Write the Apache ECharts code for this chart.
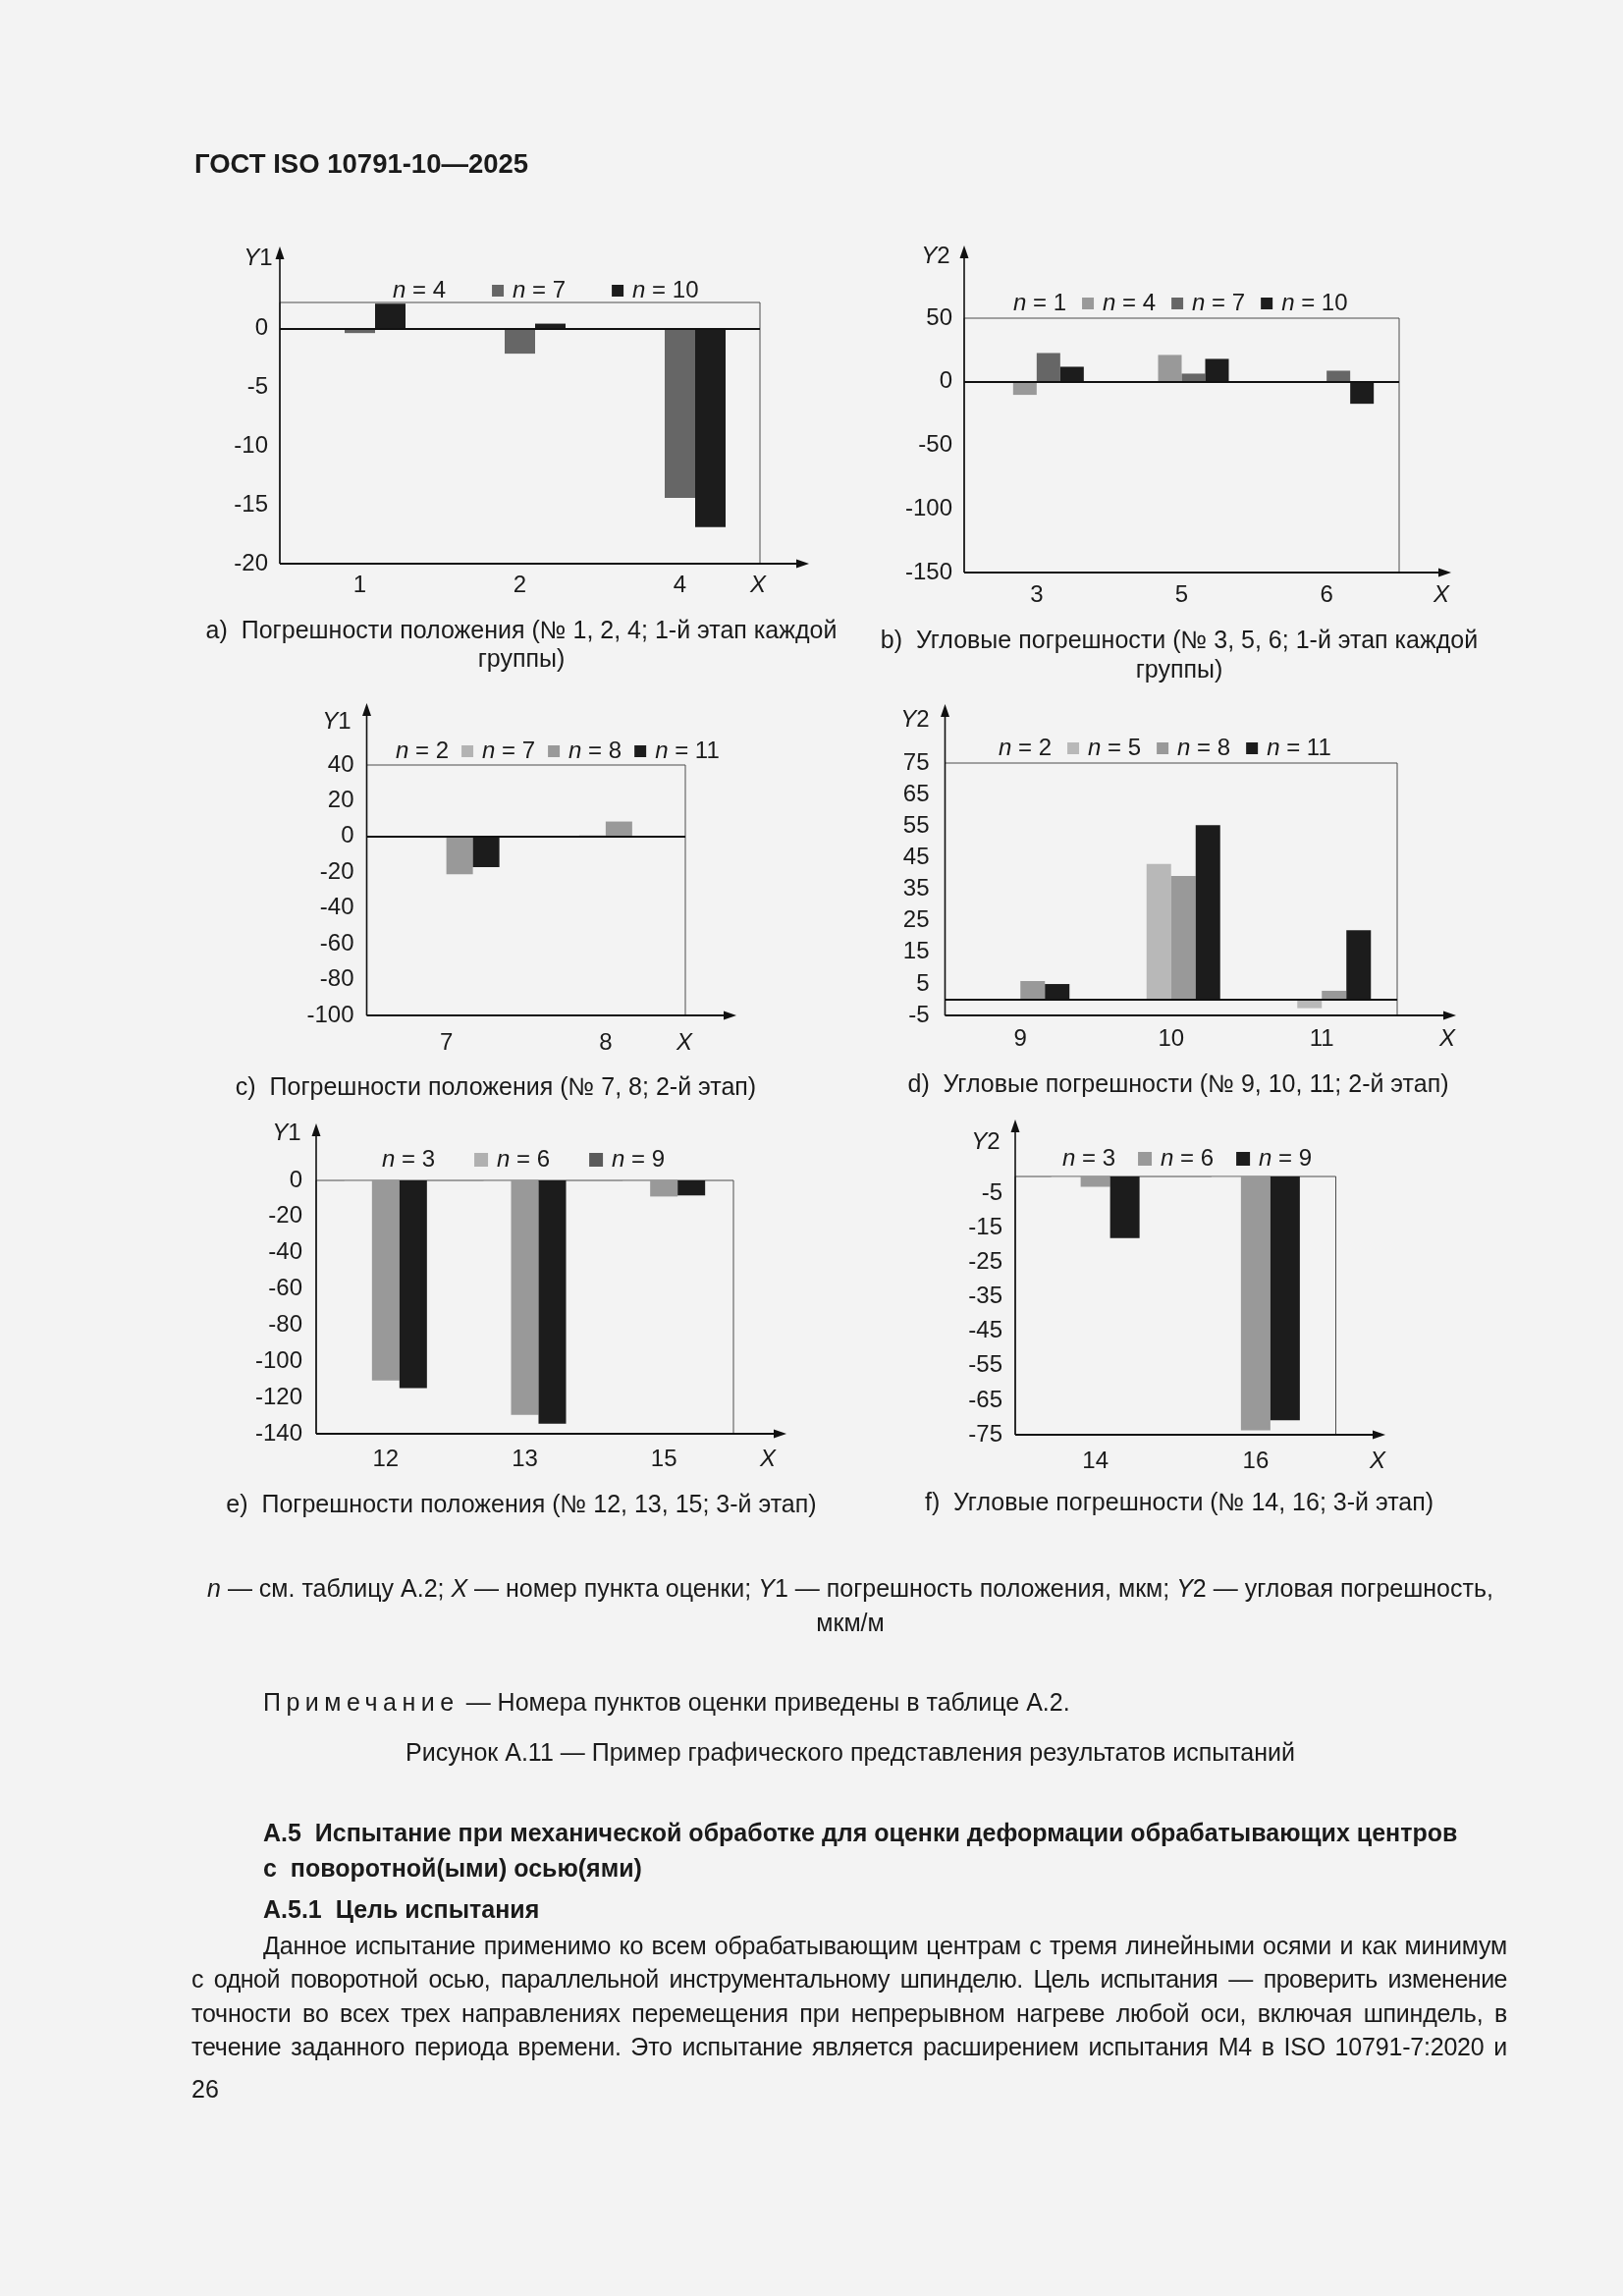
<!DOCTYPE html>
<html><head><meta charset="utf-8">
<script src="https://cdn.jsdelivr.net/npm/echarts@6/dist/echarts.min.js"></script>
<style>
html,body{margin:0;padding:0;background:#f3f3f3;}
#page{position:relative;width:1653px;height:2338px;overflow:hidden;background:#f3f3f3;font-family:"Liberation Sans",Arial,sans-serif;color:#1a1a1a;}
#chart{position:absolute;left:0;top:0;width:1653px;height:2338px;}
.t{position:absolute;font-size:25px;line-height:30px;height:30px;white-space:pre;}
.c{transform:translateX(-50%);}
.j{text-align:justify;text-align-last:justify;white-space:normal;letter-spacing:-0.2px;}
.b{font-weight:bold;}
</style></head>
<body><div id="page"><div id="chart"></div>
<div class="t b" style="left:198px;top:152px;font-size:27.5px;">ГОСТ ISO 10791-10—2025</div>
<div class="t c" style="left:866px;top:1602px;"><i>n</i> — см. таблицу А.2; <i>X</i> — номер пункта оценки; <i>Y</i>1 — погрешность положения, мкм; <i>Y</i>2 — угловая погрешность,</div>
<div class="t c" style="left:866px;top:1637px;">мкм/м</div>
<div class="t" style="left:268px;top:1718px;"><span style="letter-spacing:5.5px">Примечание</span> — Номера пунктов оценки приведены в таблице А.2.</div>
<div class="t c" style="left:866px;top:1769px;">Рисунок А.11 — Пример графического представления результатов испытаний</div>
<div class="t b" style="left:268px;top:1851px;">А.5  Испытание при механической обработке для оценки деформации обрабатывающих центров</div>
<div class="t b" style="left:268px;top:1887px;">с  поворотной(ыми) осью(ями)</div>
<div class="t b" style="left:268px;top:1929px;">А.5.1  Цель испытания</div>
<div class="t j" style="left:268px;top:1966px;width:1267px;">Данное испытание применимо ко всем обрабатывающим центрам с тремя линейными осями и как минимум</div>
<div class="t j" style="left:195px;top:2000px;width:1340px;letter-spacing:-0.5px;">с одной поворотной осью, параллельной инструментальному шпинделю. Цель испытания — проверить изменение</div>
<div class="t j" style="left:195px;top:2035px;width:1340px;">точности во всех трех направлениях перемещения при непрерывном нагреве любой оси, включая шпиндель, в</div>
<div class="t j" style="left:195px;top:2069px;width:1340px;">течение заданного периода времени. Это испытание является расширением испытания М4 в ISO 10791-7:2020 и</div>
<div class="t" style="left:195px;top:2112px;">26</div>
</div>
<script>
// ---- data ----
const catsA = ['1', '2', '4'];
const aN4 = [-0.1, -0.1, -0.1];
const aN7 = [-0.4, -2.15, -14.4];
const aN10 = [2.1, 0.4, -16.9];
const ticksA = [-20, -15, -10, -5, 0];

const catsB = ['3', '5', '6'];
const bN1 = [-1, 0, 0];
const bN4 = [-10.3, 21.1, 0];
const bN7 = [22.6, 6.4, 8.7];
const bN10 = [11.8, 18.0, -17.3];
const ticksB = [-150, -100, -50, 0, 50];

const catsC = ['7', '8'];
const cN2 = [0, 0];
const cN7 = [-0.8, 0.7];
const cN8 = [-21.1, 8.4];
const cN11 = [-17.1, 0];
const ticksC = [-100, -80, -60, -40, -20, 0, 20, 40];

const catsD = ['9', '10', '11'];
const dN2 = [0, 0, 0];
const dN5 = [0, 43.0, -2.7];
const dN8 = [5.9, 39.2, 2.8];
const dN11 = [4.95, 55.3, 22.0];
const ticksD = [-5, 5, 15, 25, 35, 45, 55, 65, 75];

const catsE = ['12', '13', '15'];
const eN3 = [-0.3, -0.3, -0.3];
const eN6 = [-110.5, -129.5, -8.9];
const eN9 = [-114.8, -134.4, -8.3];
const ticksE = [-140, -120, -100, -80, -60, -40, -20, 0];

const catsF = ['14', '16'];
const fN3 = [-0.3, -0.3];
const fN6 = [-3.0, -73.7];
const fN9 = [-17.9, -70.8];
const ticksF = [-75, -65, -55, -45, -35, -25, -15, -5];

// ---- styles / layout ----
const FONT = '"Liberation Sans", Arial, sans-serif';
const TXT = '#1a1a1a';
const LIGHT = '#bdbdbd', MID = '#999999', DARK = '#666666', BLACK = '#1c1c1c';
const HIDE = 'rgba(0,0,0,0)';

const charts = [
  { id: 'a', cats: catsA, ticks: ticksA, min: -20, max: 2.2, interval: 5, zero: true,
    series: [['n = 4', aN4, LIGHT, HIDE], ['n = 7', aN7, DARK, null], ['n = 10', aN10, BLACK, null]],
    g: { left: 285, top: 308, w: 489, h: 266 }, yTip: 251, xTip: 824, bw: 31, lm: 12, cm: 10,
    yName: [263, 263, '1'], xName: [772, 596],
    lg: { left: 374, top: 279, gap: 47, iw: 12 },
    cap: [['a)  Погрешности положения (№ 1, 2, 4; 1-й этап каждой', 531, 643], ['группы)', 531, 672]] },
  { id: 'b', cats: catsB, ticks: ticksB, min: -150, max: 50, interval: 50, zero: true,
    series: [['n = 1', bN1, LIGHT, HIDE], ['n = 4', bN4, MID, null], ['n = 7', bN7, DARK, null], ['n = 10', bN10, BLACK, null]],
    g: { left: 982, top: 324, w: 443, h: 259 }, yTip: 250, xTip: 1478, bw: 24, lm: 12, cm: 11,
    yName: [953, 261, '2'], xName: [1468, 606],
    lg: { left: 1006, top: 292, gap: 16, iw: 12 },
    cap: [['b)  Угловые погрешности (№ 3, 5, 6; 1-й этап каждой', 1201, 653], ['группы)', 1201, 683]] },
  { id: 'c', cats: catsC, ticks: ticksC, min: -100, max: 40, interval: 20, zero: true,
    series: [['n = 2', cN2, LIGHT, HIDE], ['n = 7', cN7, LIGHT, '#b3b3b3'], ['n = 8', cN8, MID, null], ['n = 11', cN11, BLACK, null]],
    g: { left: 373.5, top: 779, w: 324.5, h: 255 }, yTip: 716, xTip: 750, bw: 27, lm: 13, cm: 16,
    yName: [343, 735, '1'], xName: [697, 1062],
    lg: { left: 377, top: 748, gap: 13, iw: 12 },
    cap: [['c)  Погрешности положения (№ 7, 8; 2-й этап)', 505, 1108]] },
  { id: 'd', cats: catsD, ticks: ticksD, min: -5, max: 75, interval: 5, zero: true,
    series: [['n = 2', dN2, LIGHT, HIDE], ['n = 5', dN5, '#b8b8b8', null], ['n = 8', dN8, MID, null], ['n = 11', dN11, BLACK, null]],
    g: { left: 962.5, top: 777, w: 460.5, h: 257 }, yTip: 717, xTip: 1483, bw: 25, lm: 16, cm: 12,
    yName: [932, 733, '2'], xName: [1474, 1058],
    lg: { left: 991, top: 745, gap: 16, iw: 12 },
    cap: [['d)  Угловые погрешности (№ 9, 10, 11; 2-й этап)', 1200, 1105]] },
  { id: 'e', cats: catsE, ticks: ticksE, min: -140, max: 0, interval: 20, zero: false,
    series: [['n = 3', eN3, LIGHT, HIDE], ['n = 6', eN6, MID, '#b0b0b0'], ['n = 9', eN9, BLACK, '#5a5a5a']],
    g: { left: 322, top: 1202, w: 425, h: 258 }, yTip: 1144, xTip: 801, bw: 28, lm: 14, cm: 14,
    yName: [292, 1154, '1'], xName: [782, 1486],
    lg: { left: 361, top: 1164, gap: 40, iw: 14 },
    cap: [['e)  Погрешности положения (№ 12, 13, 15; 3-й этап)', 531, 1533]] },
  { id: 'f', cats: catsF, ticks: ticksF, min: -75, max: 0, interval: 5, zero: false,
    series: [['n = 3', fN3, LIGHT, HIDE], ['n = 6', fN6, MID, null], ['n = 9', fN9, BLACK, null]],
    g: { left: 1034, top: 1198, w: 326.5, h: 263 }, yTip: 1140, xTip: 1411, bw: 30, lm: 13, cm: 15,
    yName: [1004, 1163, '2'], xName: [1403, 1488],
    lg: { left: 1054, top: 1163, gap: 23, iw: 14 },
    cap: [['f)  Угловые погрешности (№ 14, 16; 3-й этап)', 1201, 1531]] }
];

const grid = [], xAxis = [], yAxis = [], series = [], legend = [], graphic = [];

charts.forEach((c, i) => {
  const g = c.g;
  const bottom = g.top + g.h;
  grid.push({ left: g.left, top: g.top, width: g.w, height: g.h, show: true,
    borderColor: '#4d4d4d', borderWidth: 1, backgroundColor: 'transparent', outerBoundsMode: 'none' });
  xAxis.push({ type: 'category', gridIndex: i, data: c.cats,
    axisLine: { show: false, onZero: false }, axisTick: { show: false }, splitLine: { show: false },
    axisLabel: { fontSize: 24, fontFamily: FONT, color: TXT, margin: c.cm } });
  const ticks = c.ticks;
  yAxis.push({ type: 'value', gridIndex: i, min: c.min, max: c.max, interval: c.interval,
    axisLine: { show: false }, axisTick: { show: false }, splitLine: { show: false },
    axisLabel: { fontSize: 24, fontFamily: FONT, color: TXT, margin: c.lm,
      formatter: v => { const r = Math.round(v * 1000) / 1000; return ticks.indexOf(r) >= 0 ? String(r) : ''; } } });
  const legendData = [];
  c.series.forEach((s, k) => {
    const name = c.id + '|' + s[0];
    const ser = { type: 'bar', name: name, xAxisIndex: i, yAxisIndex: i, data: s[1],
      barWidth: c.bw, barGap: '0%', itemStyle: { color: s[2] }, silent: true };
    if (c.zero && k === c.series.length - 1) {
      ser.markLine = { silent: true, symbol: ['none', 'none'], label: { show: false },
        lineStyle: { color: '#111', width: 2, type: 'solid' }, emphasis: { disabled: true },
        data: [{ yAxis: 0 }] };
    }
    series.push(ser);
    const ld = { name: name };
    if (s[3]) ld.itemStyle = { color: s[3] };
    legendData.push(ld);
  });
  legend.push({ left: c.lg.left, top: c.lg.top, itemGap: c.lg.gap, itemWidth: c.lg.iw, itemHeight: c.lg.iw,
    icon: 'rect', selectedMode: false, data: legendData,
    formatter: name => '{i|n}' + name.split('|')[1].slice(1),
    textStyle: { fontSize: 24, fontFamily: FONT, color: TXT, padding: [0, 0, 0, 4],
      rich: { i: { fontStyle: 'italic', fontSize: 24, fontFamily: FONT, color: TXT } } } });

  // axis lines with arrows
  graphic.push({ type: 'polyline', silent: true, z: 10, shape: { points: [[g.left, bottom], [g.left, c.yTip + 8]] },
    style: { stroke: '#111', lineWidth: 1.6, fill: null } });
  graphic.push({ type: 'polygon', silent: true, z: 10, shape: { points: [[g.left, c.yTip], [g.left - 4.5, c.yTip + 13], [g.left + 4.5, c.yTip + 13]] },
    style: { fill: '#111' } });
  graphic.push({ type: 'polyline', silent: true, z: 10, shape: { points: [[g.left, bottom], [c.xTip - 8, bottom]] },
    style: { stroke: '#111', lineWidth: 2, fill: null } });
  graphic.push({ type: 'polygon', silent: true, z: 10, shape: { points: [[c.xTip, bottom], [c.xTip - 13, bottom - 4.5], [c.xTip - 13, bottom + 4.5]] },
    style: { fill: '#111' } });
  // axis names
  graphic.push({ type: 'text', silent: true, z: 10, x: c.yName[0], y: c.yName[1],
    style: { text: '{i|Y}' + c.yName[2], font: '24px ' + FONT, fill: TXT, align: 'center', verticalAlign: 'middle',
      rich: { i: { fontStyle: 'italic', fontSize: 24, fontFamily: FONT, fill: TXT } } } });
  graphic.push({ type: 'text', silent: true, z: 10, x: c.xName[0], y: c.xName[1],
    style: { text: 'X', font: 'italic 24px ' + FONT, fill: TXT, align: 'center', verticalAlign: 'middle' } });
  c.cap.forEach(t => {
    graphic.push({ type: 'text', silent: true, z: 10, x: t[1], y: t[2],
      style: { text: t[0], font: '25px ' + FONT, fill: TXT, align: 'center', verticalAlign: 'middle' } });
  });
});

const chart = echarts.init(document.getElementById('chart'), null, { renderer: 'canvas', width: 1653, height: 2338 });
chart.setOption({ backgroundColor: 'transparent', animation: false, grid, xAxis, yAxis, series, legend, graphic });
</script>
</body></html>
